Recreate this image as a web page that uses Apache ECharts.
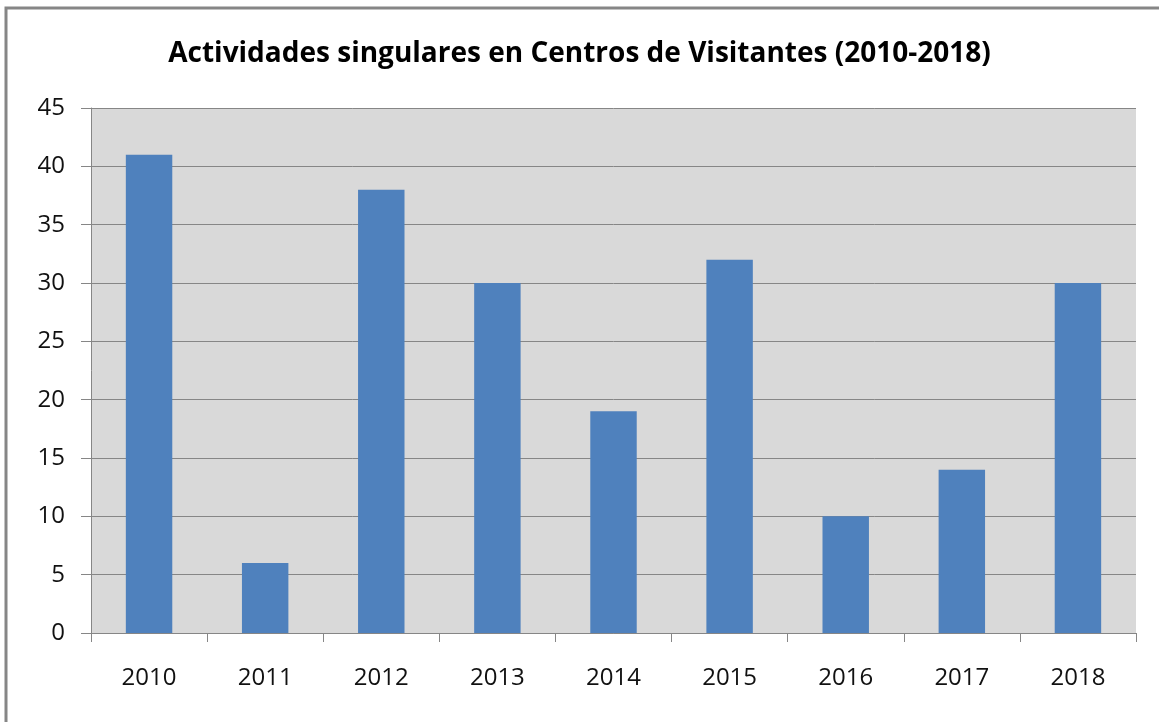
<!DOCTYPE html>
<html>
<head>
<meta charset="utf-8">
<script src="https://cdn.jsdelivr.net/npm/echarts@6/dist/echarts.min.js"></script>
<style>
  html, body { margin: 0; padding: 0; background: #fff; }
  #main { width: 1159px; height: 722px; }
</style>
</head>
<body>
<div id="main"></div>
<script>
  // 数据
  var years = ['2010', '2011', '2012', '2013', '2014', '2015', '2016', '2017', '2018'];
  var actividades = [41, 6, 38, 30, 19, 32, 10, 14, 30];

  var myChart = echarts.init(document.getElementById('main'));

  var option = {
    backgroundColor: '#ffffff',
    title: {
      text: 'Actividades singulares en Centros de Visitantes (2010-2018)',
      left: 'center',
      top: 35,
      textStyle: {
        fontFamily: 'Open Sans',
        fontWeight: 'bold',
        fontSize: 28,
        color: '#000'
      }
    },
    // 外框
    graphic: [{
      type: 'rect',
      shape: { x: 6, y: 8, width: 2000, height: 2000 },
      style: { fill: 'none', stroke: '#868686', lineWidth: 3 },
      silent: true
    }],
    grid: {
      left: 91,
      right: 23,
      top: 108,
      bottom: 89,
      show: true,
      backgroundColor: '#D9D9D9',
      borderWidth: 0
    },
    xAxis: {
      type: 'category',
      data: years,
      axisLine: { lineStyle: { color: '#868686', width: 1 } },
      axisTick: { show: true, length: 9, alignWithLabel: false, lineStyle: { color: '#868686' } },
      axisLabel: {
        margin: 33,
        fontFamily: 'Open Sans',
        fontSize: 24,
        color: '#111'
      }
    },
    yAxis: {
      type: 'value',
      min: 0,
      max: 45,
      interval: 5,
      axisLine: { show: true, lineStyle: { color: '#868686', width: 1 } },
      axisTick: { show: true, length: 10, lineStyle: { color: '#868686' } },
      splitLine: { show: true, lineStyle: { color: '#868686', width: 1 } },
      axisLabel: {
        margin: 26,
        fontFamily: 'Open Sans',
        fontSize: 24,
        color: '#111'
      }
    },
    series: [{
      name: 'Actividades',
      type: 'bar',
      data: actividades,
      barWidth: '40%',
      itemStyle: { color: '#4F81BD' },
      animation: false
    }]
  };

  myChart.setOption(option);
</script>
</body>
</html>
